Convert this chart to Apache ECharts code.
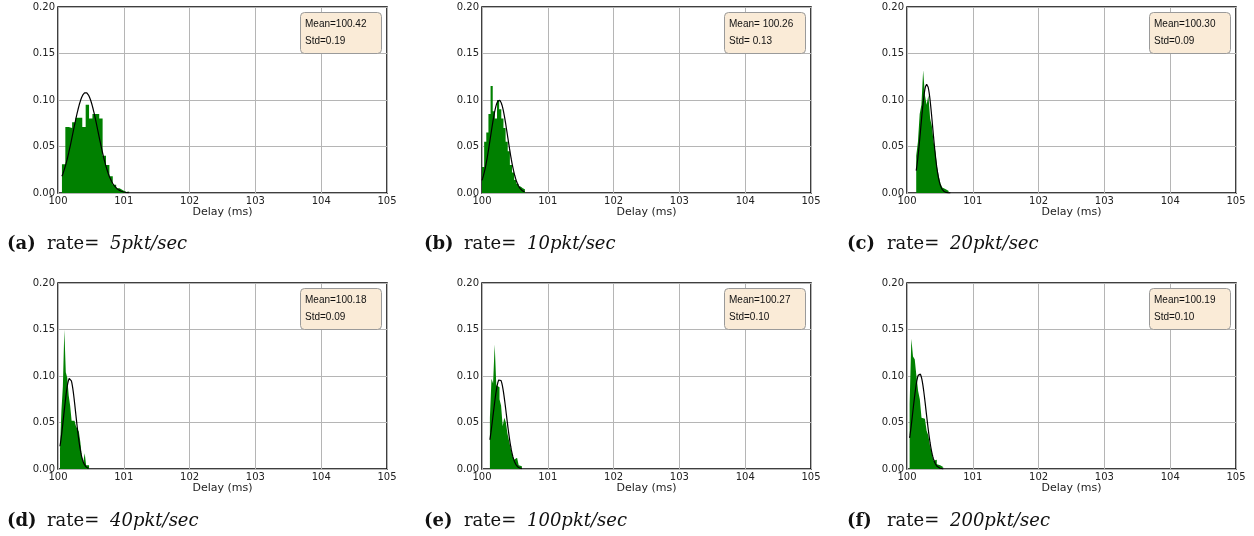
<!DOCTYPE html>
<html>
<head>
<meta charset="utf-8">
<script src="https://cdn.jsdelivr.net/npm/echarts@6/dist/echarts.min.js"></script>
<style>
  html, body { margin: 0; padding: 0; background: #fff; }
  #chart { width: 1254px; height: 536px; }
</style>
</head>
<body>
<div id="chart"></div>
<script>
// Delay histograms (probability per bin) for six packet rates, each with its normal fit.
const panelTags = ['(a)', '(b)', '(c)', '(d)', '(e)', '(f)'];
const rateValues = ['5', '10', '20', '40', '100', '200'];
const meanValues = [100.42, 100.26, 100.30, 100.18, 100.27, 100.19];
const stdValues = [0.19, 0.13, 0.09, 0.09, 0.10, 0.10];
const statSeparator = ['=', '= ', '=', '=', '=', '='];

// Histogram bins: first edge and width (ms), 20 bins each.
const binStart = [100.06, 100.00, 100.14, 100.03, 100.12, 100.04];
const binWidth = [0.0515, 0.0326, 0.0264, 0.0221, 0.0243, 0.0258];

const freqA = [0.031, 0.071, 0.070, 0.076, 0.081, 0.081, 0.071, 0.095, 0.080, 0.085,
               0.085, 0.080, 0.040, 0.030, 0.018, 0.009, 0.005, 0.003, 0.001, 0.002];
const freqB = [0.028, 0.055, 0.065, 0.085, 0.115, 0.088, 0.080, 0.100, 0.090, 0.080,
               0.070, 0.055, 0.045, 0.030, 0.022, 0.014, 0.010, 0.007, 0.005, 0.004];
const freqC = [0.040, 0.055, 0.085, 0.095, 0.132, 0.105, 0.095, 0.105, 0.080, 0.072,
               0.055, 0.045, 0.028, 0.018, 0.010, 0.006, 0.004, 0.003, 0.002, 0.002];
const freqD = [0.021, 0.063, 0.089, 0.150, 0.104, 0.098, 0.079, 0.068, 0.052, 0.052,
               0.050, 0.046, 0.043, 0.040, 0.029, 0.014, 0.007, 0.017, 0.004, 0.004];
const freqE = [0.055, 0.097, 0.092, 0.134, 0.090, 0.088, 0.075, 0.068, 0.046, 0.055,
               0.050, 0.038, 0.030, 0.022, 0.015, 0.010, 0.012, 0.012, 0.004, 0.003];
const freqF = [0.070, 0.140, 0.121, 0.118, 0.100, 0.084, 0.075, 0.055, 0.054, 0.054,
               0.041, 0.036, 0.025, 0.018, 0.009, 0.010, 0.005, 0.004, 0.006, 0.002];
const freqs = [freqA, freqB, freqC, freqD, freqE, freqF];

const xTicks = [100, 101, 102, 103, 104, 105];
const yTicks = [0.00, 0.05, 0.10, 0.15, 0.20];
const xTitle = 'Delay (ms)';

// ---- layout ----
const colLeft = [58, 482, 907];
const rowTop = [7, 283];
const plotW = 329, plotH = 186;
const captionX = [7, 424, 847];
const captionY = [246, 523];

const axisFont = 'DejaVu Sans';
const captionFont = '"DejaVu Serif", "Liberation Serif", serif';
const grids = [], xAxes = [], yAxes = [], series = [], graphics = [];

panelTags.forEach((tag, i) => {
  const col = i % 3, row = Math.floor(i / 3);
  const left = colLeft[col], top = rowTop[row];
  grids.push({
    left: left, top: top, width: plotW, height: plotH,
    show: true, borderColor: '#000', borderWidth: 1.5, backgroundColor: 'transparent'
  });
  xAxes.push({
    gridIndex: i, type: 'value',
    min: xTicks[0], max: xTicks[xTicks.length - 1], interval: xTicks[1] - xTicks[0],
    name: xTitle, nameLocation: 'middle', nameGap: 13,
    nameTextStyle: { fontFamily: axisFont, fontSize: 11, color: '#222' },
    axisLine: { show: false }, axisTick: { show: false },
    axisLabel: { fontFamily: axisFont, fontSize: 10, color: '#222', margin: 3 },
    splitLine: { show: true, lineStyle: { color: '#b5b5b5', width: 1 } }
  });
  yAxes.push({
    gridIndex: i, type: 'value',
    min: yTicks[0], max: yTicks[yTicks.length - 1], interval: yTicks[1] - yTicks[0],
    axisLine: { show: false }, axisTick: { show: false },
    axisLabel: { fontFamily: axisFont, fontSize: 10, color: '#222', margin: 3,
                 formatter: v => v.toFixed(2) },
    splitLine: { show: true, lineStyle: { color: '#b5b5b5', width: 1 } }
  });

  // histogram as a stepped filled outline: one point per bin's left edge, plus the last right edge
  const edges = freqs[i].map((p, k) => [binStart[i] + k * binWidth[i], p]);
  edges.push([binStart[i] + freqs[i].length * binWidth[i], freqs[i][freqs[i].length - 1]]);
  series.push({
    type: 'line', xAxisIndex: i, yAxisIndex: i, z: 2,
    data: edges, step: 'end', showSymbol: false, silent: true,
    lineStyle: { width: 0, opacity: 0 },
    areaStyle: { color: '#008000', opacity: 1, origin: 'start' }
  });

  // normal fit with the stated mean and std, scaled to probability per bin
  const lo = binStart[i], hi = binStart[i] + freqs[i].length * binWidth[i];
  const fit = [];
  const steps = 120;
  for (let s = 0; s <= steps; s++) {
    const x = lo + (hi - lo) * s / steps;
    const z = (x - meanValues[i]) / stdValues[i];
    fit.push([x, binWidth[i] * Math.exp(-0.5 * z * z) / (stdValues[i] * Math.sqrt(2 * Math.PI))]);
  }
  series.push({
    type: 'line', xAxisIndex: i, yAxisIndex: i, z: 3,
    data: fit, showSymbol: false, smooth: false, silent: true,
    lineStyle: { color: '#000', width: 1.2 }
  });

  // statistics box
  const bx = left + plotW - 6 - 81, by = top + 5;
  graphics.push({
    type: 'rect', left: bx, top: by, z: 10,
    shape: { width: 81, height: 41, r: 4 },
    style: { fill: '#faebd7', stroke: '#9a9a9a', lineWidth: 1 }
  });
  graphics.push({
    type: 'text', left: bx + 5, top: by + 4, z: 11,
    style: {
      text: 'Mean' + statSeparator[i] + meanValues[i].toFixed(2) + '\nStd' + statSeparator[i] + stdValues[i].toFixed(2),
      font: '10px "Liberation Sans", Arial, sans-serif', fill: '#111', lineHeight: 17
    }
  });

  // caption
  const cx = captionX[col], cy = captionY[row];
  graphics.push({
    type: 'text', left: cx, top: cy - 11, z: 11,
    style: { text: tag, font: 'bold 18px ' + captionFont, fill: '#111' }
  });
  graphics.push({
    type: 'text', left: cx + 40, top: cy - 11, z: 11,
    style: { text: 'rate=', font: '18px ' + captionFont, fill: '#111' }
  });
  graphics.push({
    type: 'text', left: cx + 103, top: cy - 11, z: 11,
    style: { text: rateValues[i] + 'pkt/sec', font: 'italic 18px ' + captionFont, fill: '#111' }
  });
});

const chart = echarts.init(document.getElementById('chart'), null, { renderer: 'canvas' });
chart.setOption({
  animation: false,
  backgroundColor: '#fff',
  grid: grids,
  xAxis: xAxes,
  yAxis: yAxes,
  series: series,
  graphic: graphics
});
</script>
</body>
</html>
